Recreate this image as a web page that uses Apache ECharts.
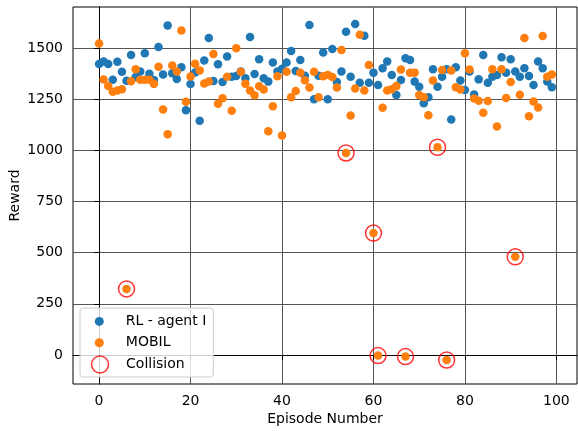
<!DOCTYPE html>
<html><head><meta charset="utf-8">
<script src="https://cdn.jsdelivr.net/npm/echarts@6/dist/echarts.min.js"></script>
<style>html,body{margin:0;padding:0;background:#fff}#c{width:578px;height:431px}</style>
</head><body><div id="c"></div>
<script>
const episodes = [0,1,2,3,4,5,6,7,8,9,10,11,12,13,14,15,16,17,18,19,20,21,22,23,24,25,26,27,28,29,30,31,32,33,34,35,36,37,38,39,40,41,42,43,44,45,46,47,48,49,50,51,52,53,54,55,56,57,58,59,60,61,62,63,64,65,66,67,68,69,70,71,72,73,74,75,76,77,78,79,80,81,82,83,84,85,86,87,88,89,90,91,92,93,94,95,96,97,98,99];
const rlReward = [1423,1435,1423,1346,1434,1385,1341,1467,1360,1386,1476,1375,1345,1506,1372,1612,1378,1350,1407,1197,1325,1382,1146,1440,1550,1340,1422,1335,1460,1361,1365,1386,1353,1555,1374,1446,1353,1337,1430,1386,1400,1430,1487,1389,1443,1366,1614,1251,1366,1480,1251,1496,1335,1386,1581,1361,1619,1332,1561,1332,1381,1320,1402,1435,1369,1271,1345,1451,1443,1337,1312,1231,1260,1397,1312,1361,1397,1152,1407,1342,1296,1386,1274,1348,1467,1332,1361,1369,1456,1381,1446,1386,1361,1402,1364,1320,1435,1402,1338,1309];
const mobilReward = [1524,1347,1316,1288,1294,1300,323,1339,1398,1346,1346,1346,1326,1410,1201,1080,1416,1386,1587,1238,1362,1424,1392,1328,1338,1472,1229,1256,1361,1195,1500,1385,1327,1294,1270,1314,1298,1094,1216,1363,1073,1385,1261,1291,1380,1344,1308,1385,1261,1363,1370,1360,1308,1492,988,1171,1303,1566,1294,1418,596,-3,1209,1294,1300,1315,1396,-8,1381,1381,1271,1260,1173,1342,1016,1394,-25,1391,1309,1299,1476,1396,1255,1244,1185,1242,1397,1118,1397,1257,1335,480,1273,1550,1168,1240,1211,1560,1361,1372];
const collisionEpisodes = [6,54,60,61,67,74,76,91];
const xTicks = [0,20,40,60,80,100];
const yTicks = [0,250,500,750,1000,1250,1500];

const FONT = 'DejaVu Sans';
const chart = echarts.init(document.getElementById('c'), null, {renderer:'canvas'});
const axisCommon = {
  axisLine:{show:true,lineStyle:{color:'#000',width:1}},
  axisTick:{show:true,inside:false,length:5,lineStyle:{color:'#000',width:1}},
  splitLine:{show:true,lineStyle:{color:'#555',width:1}},
  nameTextStyle:{fontFamily:FONT,fontSize:14,color:'#000'},
  nameMoveOverlap:false
};
chart.setOption({
  animation:false,
  backgroundColor:'#fff',
  grid:{left:73,right:1,top:7,bottom:47,show:true,borderColor:'#000',borderWidth:1,containLabel:false,outerBoundsMode:'none'},
  xAxis:Object.assign({}, axisCommon, {
    type:'value', min:-5.7, max:104.5, minInterval:20, maxInterval:20,
    axisTick:Object.assign({}, axisCommon.axisTick, {customValues:xTicks}),
    axisLabel:{customValues:xTicks, margin:10, fontFamily:FONT, fontSize:14, color:'#000', formatter:v=>String(v)},
    name:'Episode Number', nameLocation:'middle', nameGap:28
  }),
  yAxis:Object.assign({}, axisCommon, {
    type:'value', min:-142, max:1702, minInterval:250, maxInterval:250,
    axisTick:Object.assign({}, axisCommon.axisTick, {customValues:yTicks}),
    axisLabel:{customValues:yTicks, margin:10, fontFamily:FONT, fontSize:14, color:'#000', formatter:v=>String(v)},
    name:'Reward', nameLocation:'middle', nameGap:51
  }),
  legend:[{
    data:['RL - agent I','MOBIL'], orient:'vertical', left:80, top:308,
    itemWidth:9, itemHeight:9, itemGap:7.3, icon:'circle', selectedMode:false,
    padding:[6.4,7,27.3,14.8],
    backgroundColor:'rgba(255,255,255,0.8)', borderColor:'#cccccc', borderWidth:1, borderRadius:3,
    textStyle:{fontFamily:FONT,fontSize:14,color:'#000',lineHeight:14,padding:[0,0,0,17]}, z:10
  },{
    data:[{name:'Collision', itemStyle:{color:'rgba(0,0,0,0)', borderColor:'#ff0000', borderWidth:1.5}}],
    orient:'vertical', left:90.8, top:355.2, itemWidth:17, itemHeight:17, icon:'circle', selectedMode:false,
    padding:0,
    textStyle:{fontFamily:FONT,fontSize:14,color:'#000',lineHeight:14,padding:[0,0,0,12.5]}, z:11
  }],
  series:[{
    name:'RL - agent I', type:'scatter', symbol:'circle', symbolSize:8.5, z:2,
    itemStyle:{color:'#1f77b4', opacity:1},
    data:episodes.map((e,i)=>[e, rlReward[i]])
  },{
    name:'MOBIL', type:'scatter', symbol:'circle', symbolSize:8.5, z:3,
    itemStyle:{color:'#ff7f0e', opacity:1},
    data:episodes.map((e,i)=>[e, mobilReward[i]])
  },{
    name:'Collision', type:'scatter', symbol:'circle', symbolSize:16, z:4,
    itemStyle:{color:'rgba(0,0,0,0)', borderColor:'#ff0000', borderWidth:1.5},
    data:collisionEpisodes.map(e=>[e, mobilReward[e]])
  }]
});
</script></body></html>
